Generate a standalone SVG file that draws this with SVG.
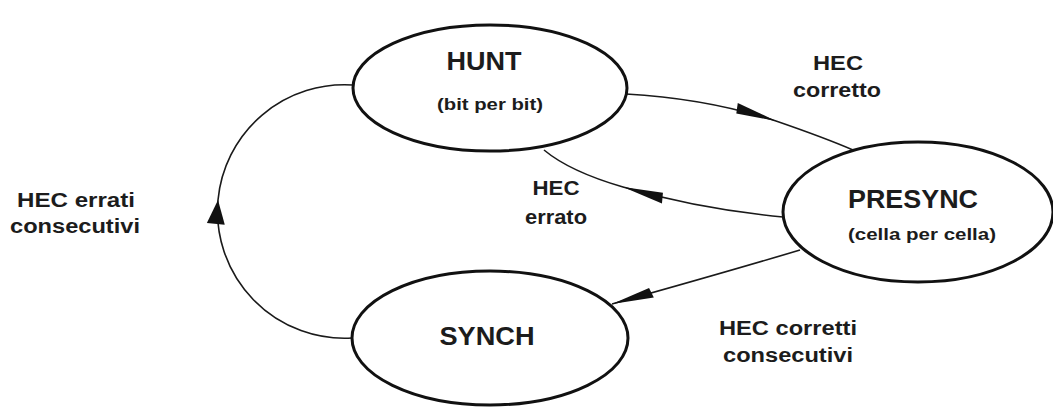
<svg xmlns="http://www.w3.org/2000/svg" width="1053" height="407" viewBox="0 0 1053 407">
  <style>
    .node { fill: #ffffff; stroke: #111111; stroke-width: 3; }
    .edge { fill: none; stroke: #1a1a1a; stroke-width: 1.6; }
    .t { font-family: "Liberation Sans", Arial, Helvetica, sans-serif; font-weight: bold; fill: #1c1c1c; text-anchor: middle; }
    .big { font-size: 25px; }
    .sub { font-size: 17px; }
    .lbl { font-size: 20px; }
  </style>
  <defs>
    <marker id="longArrow" markerUnits="userSpaceOnUse" markerWidth="44" markerHeight="14" refX="42" refY="6" orient="auto" viewBox="0 0 44 12" overflow="visible">
      <path d="M0,1 L42,6 L2,11.5 z" fill="#111111"/>
    </marker>
    <marker id="upArrow" markerUnits="userSpaceOnUse" markerWidth="26" markerHeight="20" refX="24" refY="9" orient="auto" viewBox="0 0 26 18" overflow="visible">
      <path d="M0,0 L24,9 L0,18 z" fill="#111111"/>
    </marker>
  </defs>

  <g id="connectors">
    <path id="e-hunt-presync" class="edge" d="M626,94 C680,97 730,106 776,121 C805,131 830,140 853,150" marker-mid="url(#longArrow)"/>
    <path id="e-presync-hunt" class="edge" d="M783,217 C730,212 675,202 623,187 C592,178 562,165 544,150" marker-mid="url(#longArrow)"/>
    <path id="e-presync-synch" class="edge" d="M800,250 C740,268 680,285 612,304" marker-end="url(#longArrow)"/>
    <path id="e-synch-hunt" class="edge" d="M352,338 A127,127 0 0 1 218,200 A127,127 0 0 1 353,85" marker-mid="url(#upArrow)"/>
  </g>

  <g id="hunt">
    <ellipse class="node" cx="490" cy="88" rx="137" ry="63"/>
    <text class="t big" x="484" y="70" textLength="75" lengthAdjust="spacingAndGlyphs">HUNT</text>
    <text class="t sub" x="490" y="110" textLength="106" lengthAdjust="spacingAndGlyphs">(bit per bit)</text>
  </g>

  <g id="presync">
    <ellipse class="node" cx="918" cy="212" rx="135" ry="70"/>
    <text class="t big" x="913" y="208" textLength="130" lengthAdjust="spacingAndGlyphs">PRESYNC</text>
    <text class="t sub" x="922" y="240" textLength="148" lengthAdjust="spacingAndGlyphs">(cella per cella)</text>
  </g>

  <g id="synch">
    <ellipse class="node" cx="490" cy="338" rx="138" ry="67"/>
    <text class="t big" x="487" y="345" textLength="95" lengthAdjust="spacingAndGlyphs">SYNCH</text>
  </g>

  <g id="edge-labels">
    <text class="t lbl" x="838" y="70" textLength="50" lengthAdjust="spacingAndGlyphs">HEC</text>
    <text class="t lbl" x="837" y="97" textLength="88" lengthAdjust="spacingAndGlyphs">corretto</text>
    <text class="t lbl" x="556" y="195" textLength="47" lengthAdjust="spacingAndGlyphs">HEC</text>
    <text class="t lbl" x="556" y="224" textLength="62" lengthAdjust="spacingAndGlyphs">errato</text>
    <text class="t lbl" x="76" y="207" textLength="118" lengthAdjust="spacingAndGlyphs">HEC errati</text>
    <text class="t lbl" x="75" y="233" textLength="130" lengthAdjust="spacingAndGlyphs">consecutivi</text>
    <text class="t lbl" x="788" y="335" textLength="138" lengthAdjust="spacingAndGlyphs">HEC corretti</text>
    <text class="t lbl" x="788" y="362" textLength="130" lengthAdjust="spacingAndGlyphs">consecutivi</text>
  </g>
</svg>
